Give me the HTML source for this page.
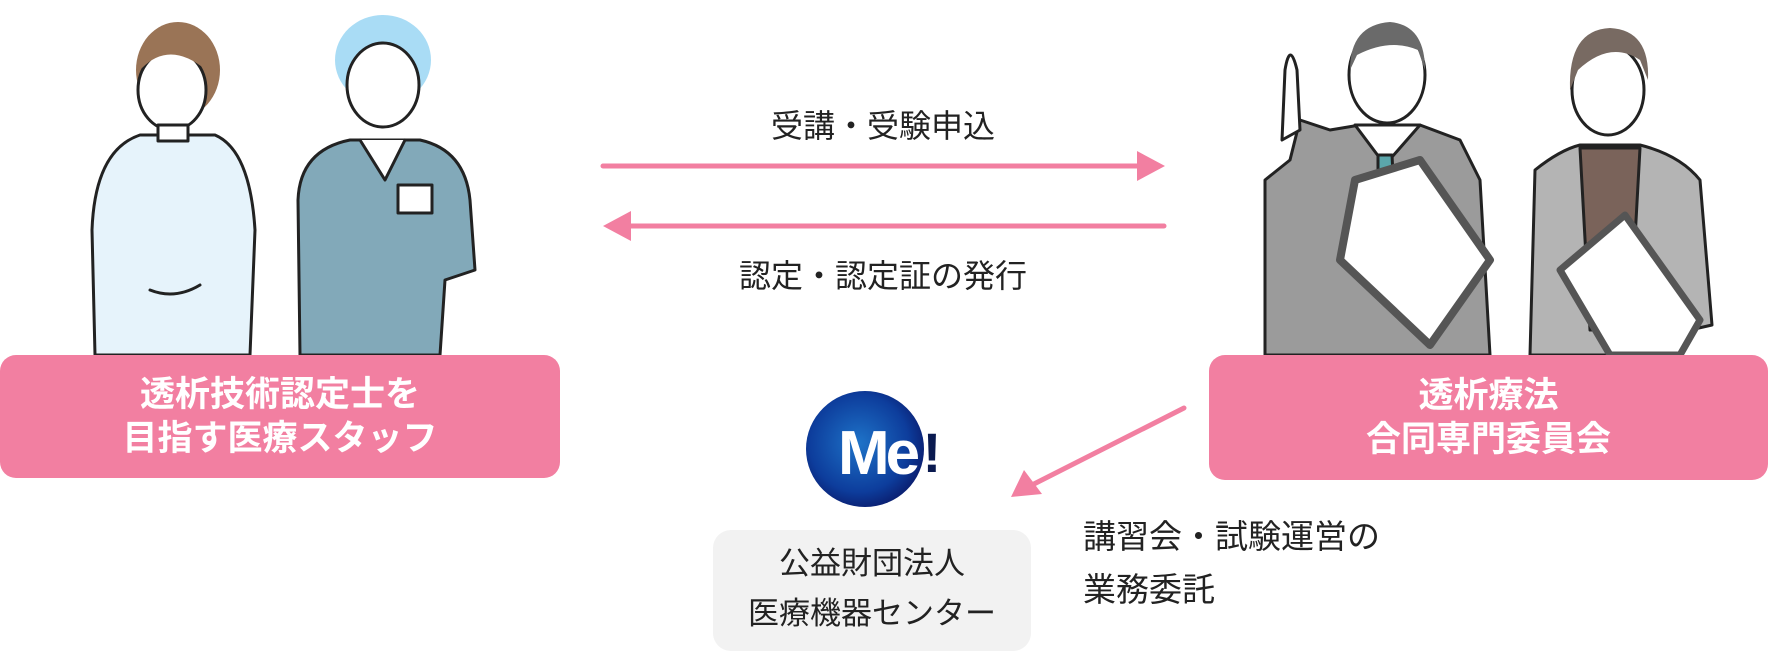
<!DOCTYPE html>
<html><head><meta charset="utf-8"><style>
html,body{margin:0;padding:0;background:#fff}
body{width:1768px;height:651px;position:relative;overflow:hidden;font-family:"Liberation Sans","Noto Sans CJK JP",sans-serif}
.t{position:absolute;white-space:nowrap}
.pink{position:absolute;background:#f27fa1;border-radius:16px;color:#fff;font-weight:bold;font-size:35px;line-height:44px;text-align:center;display:flex;flex-direction:column;justify-content:center}
</style></head><body>
<svg width="1768" height="651" style="position:absolute;left:0;top:0" stroke-linejoin="round" stroke-linecap="round">
<g stroke="#222" stroke-width="3">
<ellipse cx="178" cy="70" rx="42" ry="48" fill="#9a7456" stroke="none"/>
<path d="M95 355 L92 230 Q95 150 140 135 L215 135 Q250 150 255 230 L250 355 Z" fill="#e6f3fb"/>
<ellipse cx="172" cy="90" rx="34" ry="40" fill="#fff"/>
<path d="M142 68 Q170 40 206 70 L206 50 Q175 30 142 55Z" fill="#9a7456" stroke="none"/>
<rect x="158" y="125" width="30" height="16" fill="#fff"/>
<path d="M150 290 Q175 300 200 285" fill="none"/>
</g>
<g stroke="#222" stroke-width="3">
<ellipse cx="383" cy="60" rx="48" ry="45" fill="#a9dcf5" stroke="none"/>
<path d="M300 355 L298 200 Q300 150 350 140 L420 140 Q465 150 470 200 L475 270 L445 280 L440 355 Z" fill="#82a9b9"/>
<ellipse cx="383" cy="85" rx="36" ry="42" fill="#fff"/>
<path d="M360 140 L385 180 L405 140" fill="#fff"/>
<rect x="398" y="185" width="34" height="28" fill="#fff"/>
</g>
<g stroke="#222" stroke-width="3">
<path d="M1265 355 L1265 180 L1290 160 L1300 120 L1330 130 L1360 125 L1420 125 L1460 140 L1480 180 L1490 355 Z" fill="#9b9b9b"/>
<path d="M1355 125 L1385 165 L1420 125Z" fill="#fff"/>
<path d="M1378 155 L1392 155 L1395 215 L1385 225 L1378 210Z" fill="#5ba6ab"/>
<ellipse cx="1387" cy="75" rx="38" ry="48" fill="#fff"/>
<path d="M1350 70 Q1350 25 1390 22 Q1425 25 1425 70 L1418 50 Q1390 38 1357 55Z" fill="#6a6a6a" stroke="none"/>
<path d="M1282 140 L1285 70 Q1290 40 1297 70 L1300 130Z" fill="#fff"/>
<path d="M1355 180 L1420 160 L1490 260 L1430 345 L1340 260Z" fill="#fff" stroke="#555" stroke-width="8"/>
</g>
<g stroke="#222" stroke-width="3">
<path d="M1530 355 L1535 170 Q1560 150 1580 145 L1640 145 Q1680 155 1700 180 L1712 325 L1690 330 L1680 355 Z" fill="#b4b4b4"/>
<path d="M1580 148 L1640 148 L1630 330 L1590 330Z" fill="#7a635a"/>
<ellipse cx="1608" cy="90" rx="36" ry="45" fill="#fff"/>
<path d="M1570 90 Q1568 30 1610 28 Q1650 30 1648 80 L1640 60 Q1610 40 1578 70Z" fill="#786a62" stroke="none"/>
<path d="M1560 270 L1625 215 L1700 320 L1680 355 L1610 355Z" fill="#fff" stroke="#555" stroke-width="7"/>
</g>
<line x1="603" y1="166" x2="1140" y2="166" stroke="#f27fa1" stroke-width="5"/>
<polygon points="1137,151 1165,166 1137,181" fill="#f27fa1"/>
<line x1="630" y1="226" x2="1164" y2="226" stroke="#f27fa1" stroke-width="5"/>
<polygon points="631,211 603,226 631,241" fill="#f27fa1"/>
<line x1="1184" y1="408" x2="1030" y2="486" stroke="#f27fa1" stroke-width="5"/>
<polygon points="1011,497 1024,470 1042,494" fill="#f27fa1"/>
<defs><radialGradient id="g" cx="45%" cy="45%" r="60%"><stop offset="0" stop-color="#1e73c8"/><stop offset="0.7" stop-color="#0d3d9c"/><stop offset="1" stop-color="#0a1a6a"/></radialGradient></defs>
<ellipse cx="865" cy="449" rx="59" ry="58" fill="url(#g)"/>
<text x="838" y="474" font-family="Liberation Sans" font-weight="bold" font-size="62" fill="#fff" letter-spacing="-4">Me</text>
<text x="932" y="472" font-family="Liberation Sans" font-weight="bold" font-size="56" fill="#0a1a50" text-anchor="middle">!</text>
</svg>
<div class="pink" style="left:0;top:355px;width:560px;height:123px">透析技術認定士を<br>目指す医療スタッフ</div>
<div class="pink" style="left:1209px;top:355px;width:559px;height:125px">透析療法<br>合同専門委員会</div>
<div class="t" style="left:583px;top:101px;width:600px;text-align:center;font-size:32px;color:#222">受講・受験申込</div>
<div class="t" style="left:583px;top:251px;width:600px;text-align:center;font-size:32px;color:#222">認定・認定証の発行</div>
<div style="position:absolute;left:713px;top:530px;width:318px;height:121px;background:#f2f2f2;border-radius:18px;text-align:center;font-size:31px;line-height:50px;color:#222;padding-top:9px;box-sizing:border-box">公益財団法人<br>医療機器センター</div>
<div class="t" style="left:1083px;top:510px;font-size:33px;line-height:53px;color:#222">講習会・試験運営の<br>業務委託</div>
</body></html>
